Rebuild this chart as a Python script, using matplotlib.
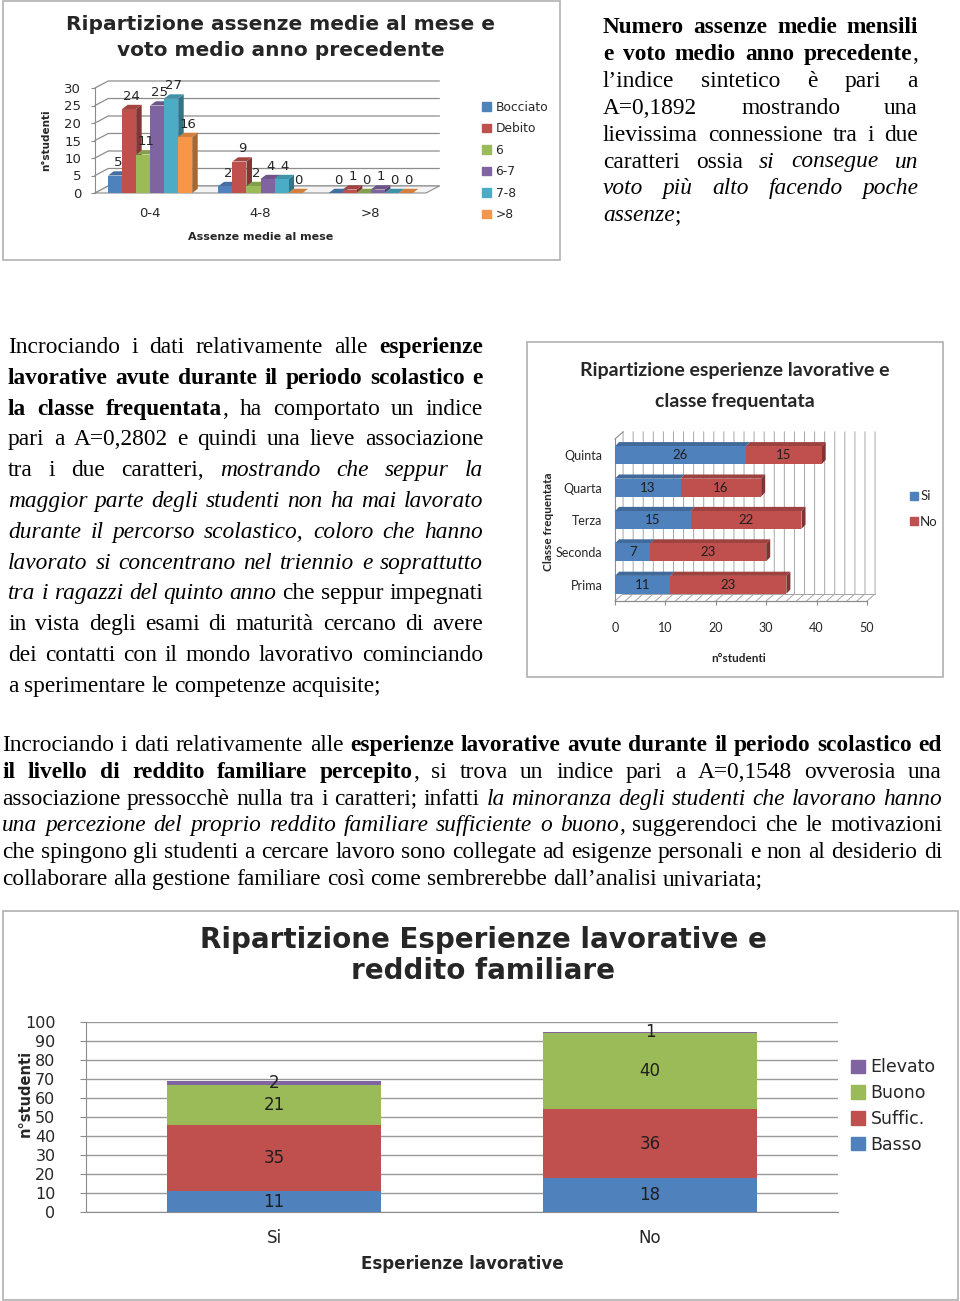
import matplotlib
matplotlib.use("Agg")
import matplotlib.pyplot as plt
from matplotlib.patches import Rectangle, Polygon, Patch
from matplotlib.colors import to_rgb
import numpy as np

# ---------------------------------------------------------------------------
# dati grafico 1: assenze medie al mese e voto medio anno precedente
assenze = ['0-4', '4-8', '>8']
voti = ['Bocciato', 'Debito', '6', '6-7', '7-8', '>8']
bocciato = [5, 2, 0]
debito = [24, 9, 1]
sei = [11, 2, 0]
sei_sette = [25, 4, 1]
sette_otto = [27, 4, 0]
oltre_otto = [16, 0, 0]

# dati grafico 2: esperienze lavorative e classe frequentata
classi = ['Prima', 'Seconda', 'Terza', 'Quarta', 'Quinta']
lavoro_si = [11, 7, 15, 13, 26]
lavoro_no = [23, 23, 22, 16, 15]

# dati grafico 3: esperienze lavorative e reddito familiare
esperienze = ['Si', 'No']
redditi = ['Basso', 'Suffic.', 'Buono', 'Elevato']
basso = [11, 18]
suffic = [35, 36]
buono = [21, 40]
elevato = [2, 1]

BLU, ROSSO, VERDE, VIOLA, AZZURRO, ARANCIO = '#4F81BD', '#C0504D', '#9BBB59', '#8064A2', '#4BACC6', '#F79646'
GRIGIO = '#8c8c8c'

W, H = 960, 1301
fig = plt.figure(figsize=(9.6, 13.01), dpi=100)
renderer = fig.canvas.get_renderer()


def scuro(c, f):
    r, g, b = to_rgb(c)
    return (r * f, g * f, b * f)


def axes_px(x0, y0, x1, y1):
    return fig.add_axes([x0 / W, 1 - y1 / H, (x1 - x0) / W, (y1 - y0) / H])


def cornice(x0, y0, x1, y1):
    fig.patches.append(Rectangle((x0 / W, 1 - y1 / H), (x1 - x0) / W, (y1 - y0) / H,
                                 transform=fig.transFigure, fill=False,
                                 edgecolor='#b0b0b0', lw=1.2))


def testo(x, y, s, **kw):
    fig.text(x / W, 1 - y / H, s, **kw)


# =========================================================================================
# testo del documento (giustificato a mano parola per parola)
SERIF = 'Liberation Serif'
STILI = {'r': {}, 'b': {'fontweight': 'bold'}, 'i': {'fontstyle': 'italic'}}


def larghezza(frag, st, size):
    t = fig.text(0, 0, frag, fontsize=size, family=SERIF, **STILI[st])
    w = t.get_window_extent(renderer).width
    t.remove()
    return w


def parole_di(runs):
    parole, cur = [], []
    for s, st in runs:
        for k, p in enumerate(s.split(' ')):
            if k > 0 and cur:
                parole.append(cur)
                cur = []
            if p:
                cur.append((p, st))
    if cur:
        parole.append(cur)
    return parole


def larghezza_naturale(runs, size):
    parole = parole_di(runs)
    tot = sum(larghezza(p, st, size) for w in parole for p, st in w)
    return tot + 0.25 * size * 100 / 72 * (len(parole) - 1)


def riga(runs, x0, x1, yb, size, giustifica=True):
    parole = parole_di(runs)
    larg = [[larghezza(p, st, size) for p, st in w] for w in parole]
    tot = sum(sum(l) for l in larg)
    spazio = 0.25 * size * 100 / 72
    if giustifica and len(parole) > 1:
        spazio = (x1 - x0 - tot) / (len(parole) - 1)
    x = x0
    for w, l in zip(parole, larg):
        for (p, st), lw in zip(w, l):
            fig.text(x / W, 1 - yb / H, p, fontsize=size, family=SERIF,
                     va='baseline', ha='left', color='black', **STILI[st])
            x += lw
        x += spazio


par1 = [
    [('Numero assenze medie mensili', 'b')],
    [('e voto medio anno precedente', 'b'), (',', 'r')],
    [('l’indice sintetico è pari a', 'r')],
    [('A=0,1892 mostrando una', 'r')],
    [('lievissima connessione tra i due', 'r')],
    [('caratteri ossia ', 'r'), ('si consegue un', 'i')],
    [('voto più alto facendo poche', 'i')],
    [('assenze', 'i'), (';', 'r')],
]
par2 = [
    [('Incrociando i dati relativamente alle ', 'r'), ('esperienze', 'b')],
    [('lavorative avute durante il periodo scolastico  e', 'b')],
    [('la classe frequentata', 'b'), (',  ha comportato un indice', 'r')],
    [('pari a A=0,2802 e quindi una lieve associazione', 'r')],
    [('tra i due caratteri, ', 'r'), ('mostrando che seppur la', 'i')],
    [('maggior parte degli studenti non ha mai lavorato', 'i')],
    [('durante il percorso scolastico, coloro che hanno', 'i')],
    [('lavorato si concentrano nel triennio e soprattutto', 'i')],
    [('tra i ragazzi del quinto anno', 'i'), (' che seppur impegnati', 'r')],
    [('in vista degli esami di maturità cercano di avere', 'r')],
    [('dei contatti con il mondo lavorativo cominciando', 'r')],
    [('a sperimentare le competenze acquisite;', 'r')],
]
par3 = [
    [('Incrociando i dati relativamente alle ', 'r'),
     ('esperienze lavorative avute durante il periodo scolastico  ed', 'b')],
    [('il  livello di reddito familiare percepito', 'b'),
     (', si trova un indice pari a  A=0,1548 ovverosia una', 'r')],
    [('associazione pressocchè nulla tra i caratteri; infatti ', 'r'),
     ('la minoranza degli studenti che lavorano hanno', 'i')],
    [('una percezione del proprio reddito familiare sufficiente o buono', 'i'),
     (', suggerendoci che le motivazioni', 'r')],
    [('che spingono gli studenti a cercare lavoro sono collegate ad esigenze personali e non al desiderio di', 'r')],
    [('collaborare alla gestione familiare così come sembrerebbe dall’analisi univariata;', 'r')],
]

# dimensione del carattere tarata sull'ultima riga del terzo paragrafo
size_txt = 16 * 761 / larghezza_naturale(par3[-1], 16)

for i, r in enumerate(par1):
    riga(r, 603, 918, 33 + i * 26.9, size_txt, giustifica=(i < len(par1) - 1))
for i, r in enumerate(par2):
    riga(r, 8, 483, 353 + i * 30.8, size_txt, giustifica=(i < len(par2) - 1))
for i, r in enumerate(par3):
    riga(r, 2, 942, 751 + i * 26.8, size_txt, giustifica=(i < len(par3) - 1))

# =========================================================================================
# grafico 1 - istogramma 3D (simulato) assenze / voto
cornice(3, 1, 560, 260)
testo(281, 24, 'Ripartizione assenze medie al mese e', ha='center', va='center',
      fontsize=14.5, fontweight='bold', color='#262626')
testo(281, 50, 'voto medio anno precedente', ha='center', va='center',
      fontsize=14.5, fontweight='bold', color='#262626')

ax1 = axes_px(95, 88, 426, 193)
ax1.set_xlim(-0.5, 2.5)
ax1.set_ylim(0, 30)
ax1.patch.set_visible(False)
gdx, gdy = 0.12, 2.0      # profondità pareti
bdx, bdy = 0.05, 1.2      # profondità barre
xmin, xmax = ax1.get_xlim()
ax1.add_patch(Polygon([(xmin, 0), (xmax, 0), (xmax + gdx, gdy), (xmin + gdx, gdy)],
                      closed=True, fc='#f4f4f4', ec=GRIGIO, lw=0.8, clip_on=False, zorder=1))
for v in range(0, 31, 5):
    ax1.plot([xmin, xmin + gdx, xmax + gdx], [v, v + gdy, v + gdy], color=GRIGIO, lw=0.9,
             clip_on=False, zorder=0.5)

serie1 = [bocciato, debito, sei, sei_sette, sette_otto, oltre_otto]
colori1 = [BLU, ROSSO, VERDE, VIOLA, AZZURRO, ARANCIO]
w1 = 0.127
xg = np.arange(len(assenze))
for k, (vals, c) in enumerate(zip(serie1, colori1)):
    xc = xg + (k - 2.5) * w1
    for xi, h in zip(xc, vals):
        l, r = xi - w1 / 2, xi + w1 / 2
        ax1.add_patch(Polygon([(r, 0), (r + bdx, bdy), (r + bdx, h + bdy), (r, h)], closed=True,
                              fc=scuro(c, 0.68), ec='none', clip_on=False, zorder=3 + k))
        ax1.add_patch(Polygon([(l, h), (r, h), (r + bdx, h + bdy), (l + bdx, h + bdy)], closed=True,
                              fc=scuro(c, 0.85), ec='none', clip_on=False, zorder=3 + k))
        ax1.text(xi + bdx / 2, h + bdy + 0.6, str(h), ha='center', va='bottom', fontsize=9.5,
                 color='#262626', zorder=20)
    ax1.bar(xc, vals, w1, color=c, zorder=3.5 + k)

for s in ['top', 'right', 'bottom']:
    ax1.spines[s].set_visible(False)
ax1.spines['left'].set_color(GRIGIO)
ax1.set_yticks(range(0, 31, 5))
ax1.tick_params(axis='y', length=3, color=GRIGIO, pad=7, labelsize=9.5, labelcolor='#262626')
ax1.set_xticks(xg, assenze)
ax1.tick_params(axis='x', length=0, pad=10, labelsize=9.5, labelcolor='#262626')
testo(46, 140, 'n°studenti', rotation=90, ha='center', va='center', fontsize=7.5,
      fontweight='bold', color='#262626')
testo(261, 237, 'Assenze medie al mese', ha='center', va='center', fontsize=8,
      fontweight='bold', color='#262626')
fig.legend([Patch(color=c) for c in colori1], voti, loc='center left',
           bbox_to_anchor=(476 / W, 1 - 161 / H), frameon=False, fontsize=8.8,
           labelspacing=0.7, handlelength=0.7, handleheight=0.7, handletextpad=0.4,
           borderpad=0, labelcolor='#262626')

# =========================================================================================
# grafico 2 - barre orizzontali in pila (3D simulato)
cornice(527, 342, 943, 677)
LATO = 'Lato'
testo(735, 370, 'Ripartizione esperienze lavorative e', ha='center', va='center',
      fontsize=14, fontweight='bold', family=LATO, color='#262626')
testo(735, 401, 'classe frequentata', ha='center', va='center',
      fontsize=14, fontweight='bold', family=LATO, color='#262626')

ax2 = axes_px(615, 439, 867, 601)
ax2.set_xlim(0, 50)
ax2.set_ylim(-0.5, 4.5)
ax2.patch.set_visible(False)
pdx, pdy = 1.6, 0.22      # profondità pareti
qdx, qdy = 0.8, 0.13      # profondità barre
x0, x1 = ax2.get_xlim()
y0, y1 = ax2.get_ylim()
for v in range(0, 51, 2):
    ax2.plot([v, v + pdx, v + pdx], [y0, y0 + pdy, y1 + pdy], color='#a6a6a6', lw=0.7,
             clip_on=False, zorder=0.5)
ax2.plot([x0, x1], [y0, y0], color=GRIGIO, lw=0.9, clip_on=False, zorder=1)
ax2.plot([x0 + pdx, x1 + pdx], [y0 + pdy, y0 + pdy], color='#a6a6a6', lw=0.7, clip_on=False, zorder=1)
ax2.plot([x0, x0 + pdx], [y1, y1 + pdy], color=GRIGIO, lw=0.8, clip_on=False, zorder=1)

yc = np.arange(len(classi))
h2 = 0.55
for lefts, vals, c in [(np.zeros(len(classi)), lavoro_si, BLU),
                       (np.array(lavoro_si), lavoro_no, ROSSO)]:
    ax2.barh(yc, vals, h2, left=lefts, color=c, zorder=4)
    for yi, l, v in zip(yc, lefts, vals):
        top = yi + h2 / 2
        ax2.add_patch(Polygon([(l, top), (l + v, top), (l + v + qdx, top + qdy), (l + qdx, top + qdy)],
                              closed=True, fc=scuro(c, 0.82), ec='none', zorder=3))
        ax2.text(l + v / 2, yi, str(v), ha='center', va='center', fontsize=9.5, family=LATO,
                 color='#1f1f1f', zorder=6)
for yi, t in zip(yc, np.array(lavoro_si) + np.array(lavoro_no)):
    ax2.add_patch(Polygon([(t, yi - h2 / 2), (t + qdx, yi - h2 / 2 + qdy), (t + qdx, yi + h2 / 2 + qdy),
                           (t, yi + h2 / 2)], closed=True, fc=scuro(ROSSO, 0.65), ec='none', zorder=3))

for s in ['top', 'right', 'bottom']:
    ax2.spines[s].set_visible(False)
ax2.spines['left'].set_color(GRIGIO)
ax2.set_yticks(yc, classi)
ax2.set_xticks(range(0, 51, 10))
ax2.tick_params(axis='y', length=0, pad=9, labelsize=9, labelcolor='#262626')
ax2.tick_params(axis='x', length=3, color=GRIGIO, pad=12, labelsize=9, labelcolor='#262626')
for t in ax2.get_xticklabels() + ax2.get_yticklabels():
    t.set_family(LATO)
testo(739, 658, 'n°studenti', ha='center', va='center', fontsize=8.5, fontweight='bold',
      family=LATO, color='#262626')
testo(549, 522, 'Classe frequentata', rotation=90, ha='center', va='center', fontsize=8.5,
      fontweight='bold', family=LATO, color='#262626')
fig.legend([Patch(color=BLU), Patch(color=ROSSO)], ['Si', 'No'], loc='center left',
           bbox_to_anchor=(903 / W, 1 - 509 / H), frameon=False,
           prop={'family': LATO, 'size': 9.5}, labelspacing=1.0, handlelength=0.6,
           handleheight=0.6, handletextpad=0.2, borderpad=0, labelcolor='#262626')

# =========================================================================================
# grafico 3 - colonne in pila esperienze lavorative / reddito
cornice(3, 911, 958, 1300)
testo(483, 940, 'Ripartizione Esperienze lavorative e', ha='center', va='center',
      fontsize=20, fontweight='bold', color='#262626')
testo(483, 971, 'reddito familiare', ha='center', va='center',
      fontsize=20, fontweight='bold', color='#262626')

ax3 = axes_px(86, 1022, 838, 1212)
ax3.set_xlim(-0.5, 1.5)
ax3.set_ylim(0, 100)
ax3.set_yticks(range(0, 101, 10))
ax3.yaxis.grid(True, color='#9a9a9a', lw=1)
ax3.set_axisbelow(True)
xc3 = np.arange(len(esperienze))
base = np.zeros(len(esperienze))
for vals, c in zip([basso, suffic, buono, elevato], [BLU, ROSSO, VERDE, VIOLA]):
    ax3.bar(xc3, vals, 0.57, bottom=base, color=c, zorder=3)
    for xi, b, v in zip(xc3, base, vals):
        ax3.text(xi, b + v / 2, str(v), ha='center', va='center', fontsize=12,
                 color='#1f1f1f', zorder=5)
    base = base + np.array(vals)

for s in ['top', 'right']:
    ax3.spines[s].set_visible(False)
ax3.spines['left'].set_color(GRIGIO)
ax3.spines['bottom'].set_color(GRIGIO)
ax3.set_xticks(xc3, esperienze)
ax3.tick_params(axis='y', length=4, color=GRIGIO, pad=18, labelsize=11.5, labelcolor='#262626')
ax3.tick_params(axis='x', length=0, pad=12, labelsize=12, labelcolor='#262626')
testo(25, 1093, 'n°studenti', rotation=90, ha='center', va='center', fontsize=10.5,
      fontweight='bold', color='#262626')
testo(462, 1264, 'Esperienze lavorative', ha='center', va='center', fontsize=12,
      fontweight='bold', color='#262626')
fig.legend([Patch(color=c) for c in [VIOLA, VERDE, ROSSO, BLU]],
           ['Elevato', 'Buono', 'Suffic.', 'Basso'], loc='center left',
           bbox_to_anchor=(842 / W, 1 - 1106 / H), frameon=False, fontsize=12.5,
           labelspacing=0.45, handlelength=0.8, handleheight=0.8, handletextpad=0.35,
           borderpad=0, labelcolor='#262626')

fig.savefig('out.png', dpi=100)
